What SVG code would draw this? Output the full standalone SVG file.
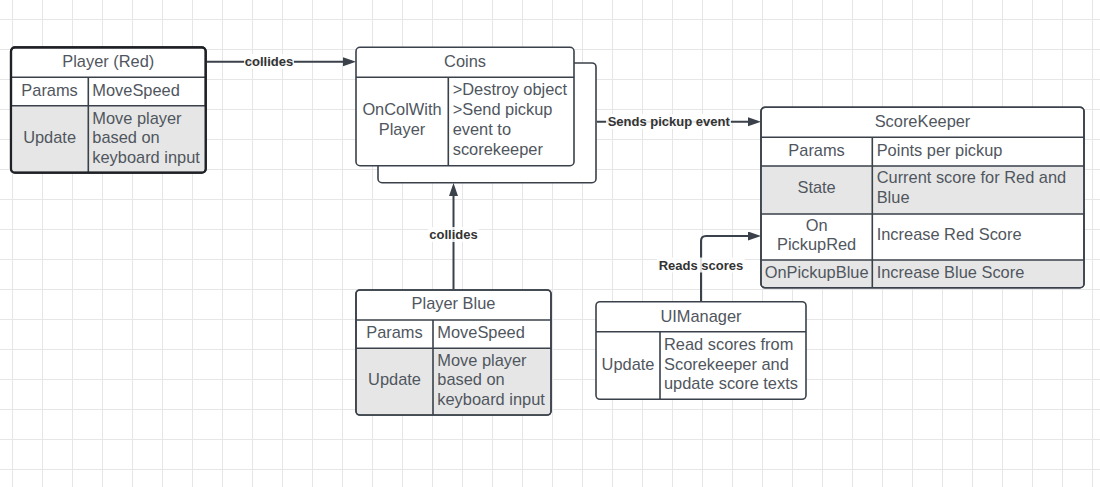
<svg xmlns="http://www.w3.org/2000/svg" width="1100" height="487" viewBox="0 0 1100 487">
<defs>
<pattern id="grid" x="12" y="19" width="30" height="30" patternUnits="userSpaceOnUse">
<path d="M0.5,0 V30 M0,0.5 H30" fill="none" stroke="#e6e6e6" stroke-width="1"/>
</pattern>
<marker id="arr" markerUnits="userSpaceOnUse" markerWidth="14" markerHeight="10" refX="9" refY="4.5" orient="auto">
<path d="M0,0 L13,4.5 L0,9 z" fill="#3a414a"/>
</marker>
</defs>
<style>
.box{fill:#fff;stroke:#3a414a;stroke-width:1.6}
.sel{fill:#fff;stroke:#1e2126;stroke-width:2.2}
.div{stroke:#3a414a;stroke-width:1.6;fill:none}
.shade{fill:#e6e6e6}
.t{font-family:"Liberation Sans",Arial,sans-serif;font-size:16.4px;fill:#50565e}
.c{text-anchor:middle}
.lbl{font-family:"Liberation Sans",Arial,sans-serif;font-size:13px;font-weight:bold;fill:#333;text-anchor:middle}
.lbg{fill:#fff;opacity:0.85}
.con{fill:none;stroke:#3a414a;stroke-width:2}
</style>
<rect width="1100" height="487" fill="#fff"/>
<rect width="1100" height="487" fill="url(#grid)"/>

<g id="player-red">
<rect class="sel" x="11" y="47.3" width="194.7" height="125.4" rx="4"/>
<path class="shade" d="M12.1,105.7 H204.6 V168.6 Q204.6,171.6 201.6,171.6 H15.1 Q12.1,171.6 12.1,168.6 Z"/>
<path class="div" d="M11,77.3 H205.7 M11,105.7 H205.7"/>
<path class="div" d="M88.3,77.3 V172.7" stroke-width="2"/>
<rect x="11" y="47.3" width="194.7" height="125.4" rx="4" fill="none" stroke="#1e2126" stroke-width="2.2"/>
<text class="t c" x="108.3" y="66.5">Player (Red)</text>
<text class="t c" x="49.6" y="95.8">Params</text>
<text class="t" x="92.3" y="95.8">MoveSpeed</text>
<text class="t c" x="49.6" y="143.2">Update</text>
<text class="t" x="92.3" y="123.5">Move player</text>
<text class="t" x="92.3" y="143.2">based on</text>
<text class="t" x="92.3" y="162.6">keyboard input</text>
</g>

<g id="coins">
<rect class="box" x="378" y="63" width="218" height="119.7" rx="4"/>
<rect class="box" x="356" y="47.3" width="218" height="118.4" rx="4"/>
<path class="div" d="M356,77.3 H574 M448.3,77.3 V165.7"/>
<text class="t c" x="465" y="66.5">Coins</text>
<text class="t c" x="402" y="115.1">OnColWith</text>
<text class="t c" x="402" y="135.1">Player</text>
<text class="t" x="452.7" y="95.1">&gt;Destroy object</text>
<text class="t" x="452.7" y="115.1">&gt;Send pickup</text>
<text class="t" x="452.7" y="135.1">event to</text>
<text class="t" x="452.7" y="155.1">scorekeeper</text>
</g>

<g id="scorekeeper">
<rect class="box" x="761" y="107.3" width="323" height="180.4" rx="4"/>
<rect class="shade" x="761.8" y="166" width="321.4" height="48"/>
<path class="shade" d="M761.8,260 H1083.2 V283.7 Q1083.2,286.9 1080,286.9 H765 Q761.8,286.9 761.8,283.7 Z"/>
<path class="div" d="M761,137.3 H1084 M761,166 H1084 M761,214 H1084 M761,260 H1084 M872.3,137.3 V287.7"/>
<rect x="761" y="107.3" width="323" height="180.4" rx="4" fill="none" stroke="#3a414a" stroke-width="1.6"/>
<text class="t c" x="922.5" y="126.5">ScoreKeeper</text>
<text class="t c" x="816.6" y="155.8">Params</text>
<text class="t" x="876.7" y="155.8">Points per pickup</text>
<text class="t c" x="816.6" y="193.1">State</text>
<text class="t" x="876.7" y="183.1">Current score for Red and</text>
<text class="t" x="876.7" y="202.5">Blue</text>
<text class="t c" x="816.6" y="230.5">On</text>
<text class="t c" x="816.6" y="249.8">PickupRed</text>
<text class="t" x="876.7" y="240.1">Increase Red Score</text>
<text class="t c" x="816.6" y="277.8">OnPickupBlue</text>
<text class="t" x="876.7" y="277.8">Increase Blue Score</text>
</g>

<g id="player-blue">
<rect class="box" x="356" y="290" width="195" height="125" rx="4"/>
<path class="shade" d="M356.8,348.3 H550.2 V411 Q550.2,414.2 547,414.2 H360 Q356.8,414.2 356.8,411 Z"/>
<path class="div" d="M356,320 H551 M356,348.3 H551 M433,320 V415"/>
<rect x="356" y="290" width="195" height="125" rx="4" fill="none" stroke="#3a414a" stroke-width="1.6"/>
<text class="t c" x="453.5" y="309.1">Player Blue</text>
<text class="t c" x="394.5" y="338.1">Params</text>
<text class="t" x="437.3" y="338.1">MoveSpeed</text>
<text class="t c" x="394.5" y="385.1">Update</text>
<text class="t" x="437.3" y="365.8">Move player</text>
<text class="t" x="437.3" y="385.1">based on</text>
<text class="t" x="437.3" y="404.8">keyboard input</text>
</g>

<g id="uimanager">
<rect class="box" x="596" y="301.7" width="210" height="97.6" rx="4"/>
<path class="div" d="M596,331.7 H806 M660,331.7 V399.3"/>
<text class="t c" x="701" y="321.5">UIManager</text>
<text class="t c" x="628" y="369.8">Update</text>
<text class="t" x="664" y="349.8">Read scores from</text>
<text class="t" x="664" y="369.8">Scorekeeper and</text>
<text class="t" x="664" y="389.1">update score texts</text>
</g>

<g id="connectors">
<path class="con" d="M206.8,61.7 H352" marker-end="url(#arr)"/>
<path class="con" d="M596.8,121.7 H757" marker-end="url(#arr)"/>
<path class="con" d="M453.5,289.2 V187" marker-end="url(#arr)"/>
<path class="con" d="M701,300.9 V241 Q701,236 706,236 H757" marker-end="url(#arr)"/>
<rect class="lbg" x="244" y="54" width="50" height="15"/>
<text class="lbl" x="269" y="65.8">collides</text>
<rect class="lbg" x="606" y="114" width="125" height="15"/>
<text class="lbl" x="668.7" y="125.8">Sends pickup event</text>
<rect class="lbg" x="428" y="227" width="51" height="15"/>
<text class="lbl" x="453.5" y="238.8">collides</text>
<rect class="lbg" x="657" y="257.5" width="88" height="15"/>
<text class="lbl" x="701" y="269.5">Reads scores</text>
</g>
</svg>
